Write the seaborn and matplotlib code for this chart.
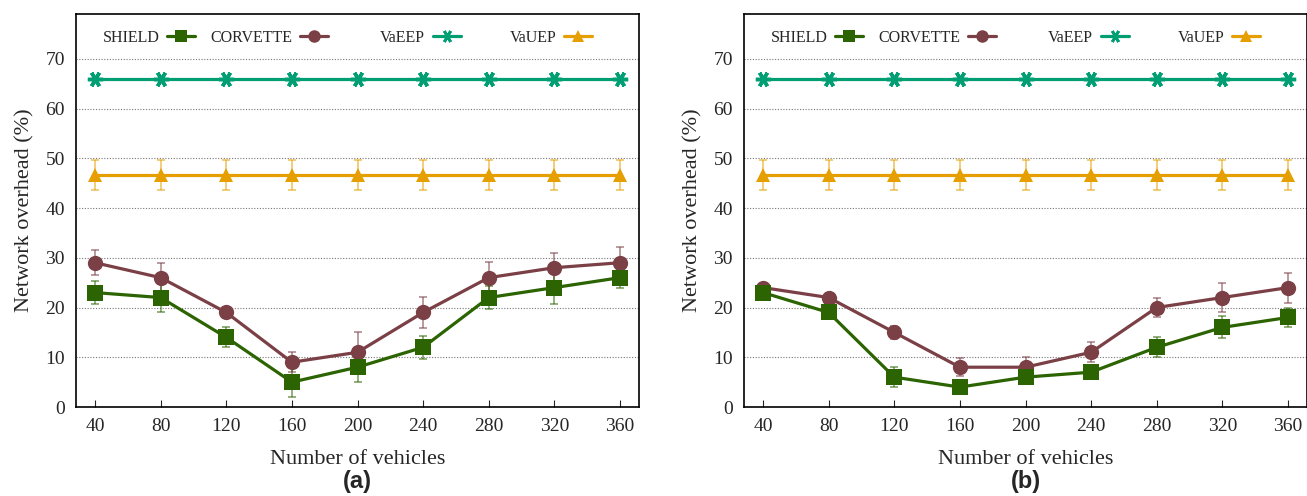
import numpy as np
import pandas as pd
import matplotlib
matplotlib.use("Agg")
import matplotlib.pyplot as plt
from matplotlib.lines import Line2D
from matplotlib.legend import Legend
import seaborn as sns

vehicles = [40, 80, 120, 160, 200, 240, 280, 320, 360]

# panel (a)
shield_a = [23, 22, 14, 5, 8, 12, 22, 24, 26]
shield_a_err = [2.3, 3, 2, 3, 3, 2.3, 2.3, 3.3, 2]
corvette_a = [29, 26, 19, 9, 11, 19, 26, 28, 29]
corvette_a_err = [2.5, 3, 1, 2, 4, 3.2, 3.1, 3, 3.2]

# panel (b)
shield_b = [23, 19, 6, 4, 6, 7, 12, 16, 18]
shield_b_err = [0.8, 0.5, 2, 0.4, 0.5, 0.5, 2, 2.2, 2]
corvette_b = [24, 22, 15, 8, 8, 11, 20, 22, 24]
corvette_b_err = [0.5, 1, 1.3, 1.8, 2, 2, 2, 3, 3]

# baselines (same in both panels)
vaeep = [66] * 9
vauep = [46.7] * 9
vauep_err = [3] * 9

series_names = ["SHIELD", "CORVETTE", "VaEEP", "VaUEP"]
colors = {"SHIELD": "#2b6400", "CORVETTE": "#7b3f46", "VaEEP": "#009e73", "VaUEP": "#e69f00"}
markers = {"SHIELD": "s", "CORVETTE": "o", "VaEEP": (6, 2, 90), "VaUEP": "^"}
msizes = {"SHIELD": 11, "CORVETTE": 11, "VaEEP": 11, "VaUEP": 10}
mew = {"SHIELD": 0, "CORVETTE": 0, "VaEEP": 2.5, "VaUEP": 0}

sns.set_style("ticks")
plt.rcParams["font.family"] = ["Liberation Serif", "DejaVu Serif"]

fig = plt.figure(figsize=(13.07, 4.96), dpi=100)
ax_a = fig.add_axes([76 / 1307, 89 / 496, 563 / 1307, 393 / 496])
ax_b = fig.add_axes([744 / 1307, 89 / 496, 563 / 1307, 393 / 496])

leg_x = [0.212, 0.448, 0.684, 0.917]
panels = [
    (ax_a, {"SHIELD": (shield_a, shield_a_err), "CORVETTE": (corvette_a, corvette_a_err),
            "VaEEP": (vaeep, None), "VaUEP": (vauep, vauep_err)}, "(a)"),
    (ax_b, {"SHIELD": (shield_b, shield_b_err), "CORVETTE": (corvette_b, corvette_b_err),
            "VaEEP": (vaeep, None), "VaUEP": (vauep, vauep_err)}, "(b)"),
]

for ax, data, tag in panels:
    for name in ["VaEEP", "VaUEP", "CORVETTE", "SHIELD"]:
        vals, err = data[name]
        df = pd.DataFrame({"vehicles": vehicles, "overhead": vals})
        if err is not None:
            ax.errorbar(vehicles, vals, yerr=err, fmt="none", ecolor=colors[name],
                        alpha=0.6, elinewidth=1.2, capsize=3, capthick=1.2, zorder=2)
        sns.lineplot(data=df, x="vehicles", y="overhead", ax=ax, color=colors[name],
                     marker=markers[name], markersize=msizes[name], markeredgecolor=colors[name],
                     markeredgewidth=mew[name], linewidth=2.3, zorder=3)

    ax.set_xlim(28.4, 371.6)
    ax.set_ylim(0, 79)
    ax.set_xticks(vehicles)
    ax.set_yticks(range(0, 80, 10))
    ax.tick_params(axis="x", direction="in", length=5, width=0.8, labelsize=14, pad=8)
    ax.tick_params(axis="y", length=0, labelsize=14, pad=8)
    for s in ax.spines.values():
        s.set_linewidth(1.2)
        s.set_color("black")
    for yv in range(10, 80, 10):
        ax.axhline(yv, color="#777777", linestyle=(0, (1, 1.5)), linewidth=0.8, zorder=1)
    ax.set_xlabel("Number of vehicles", fontsize=16, labelpad=11)
    ax.set_ylabel("Network overhead (%)", fontsize=16, labelpad=8)

    for name, xpos in zip(series_names, leg_x):
        h = Line2D([], [], color=colors[name], marker=markers[name], markersize=msizes[name] - 2,
                   markeredgecolor=colors[name], markeredgewidth=mew[name] * 0.8,
                   linewidth=2.3)
        leg = Legend(ax, [h], [name], loc="upper right", bbox_to_anchor=(xpos, 0.96),
                     frameon=False, markerfirst=False, fontsize=11.5, handlelength=1.75,
                     handletextpad=0.5, borderpad=0, borderaxespad=0)
        ax.add_artist(leg)

    pos = ax.get_position()
    fig.text(pos.x0 + pos.width / 2, 0.006, tag, ha="center", va="bottom",
             fontsize=17, fontweight="bold", family=["Liberation Sans", "DejaVu Sans"])

fig.savefig("out.png", dpi=100)
